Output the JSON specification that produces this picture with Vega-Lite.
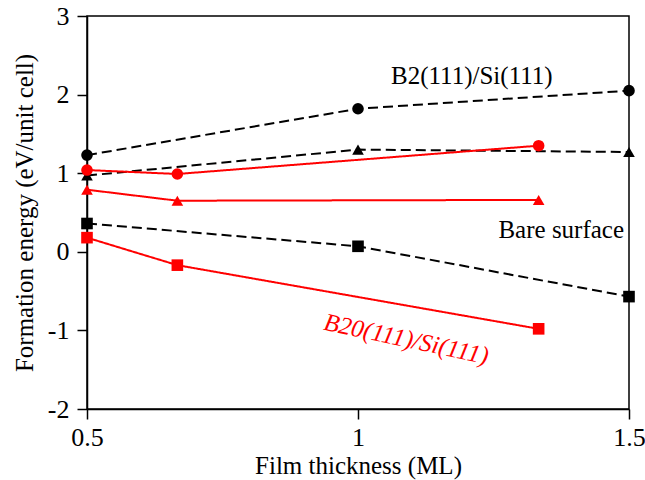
{
  "$schema": "https://vega.github.io/schema/vega-lite/v6.json",
  "width": 542,
  "height": 393,
  "autosize": {"type": "none"},
  "padding": {"left": 87, "top": 16, "right": 16, "bottom": 71},
  "background": "white",
  "config": {
    "view": {"stroke": "black", "strokeWidth": 1.5},
    "font": "Liberation Serif",
    "axis": {
      "domainColor": "black", "domainWidth": 1.5, "tickColor": "black", "tickWidth": 1.5, "tickSize": 10,
      "labelFont": "Liberation Serif", "labelFontSize": 26, "labelColor": "black",
      "titleFont": "Liberation Serif", "titleFontSize": 25, "titleFontWeight": "normal", "titleColor": "black",
      "grid": false
    }
  },
  "datasets": {
    "pts": [
      {"series": "B2 circle", "group": "B2", "mark": "circle", "x": 0.5, "y": 1.23},
      {"series": "B2 circle", "group": "B2", "mark": "circle", "x": 1.0, "y": 1.82},
      {"series": "B2 circle", "group": "B2", "mark": "circle", "x": 1.5, "y": 2.05},
      {"series": "B2 triangle", "group": "B2", "mark": "triangle", "x": 0.5, "y": 0.97},
      {"series": "B2 triangle", "group": "B2", "mark": "triangle", "x": 1.0, "y": 1.3},
      {"series": "B2 triangle", "group": "B2", "mark": "triangle", "x": 1.5, "y": 1.27},
      {"series": "B2 square", "group": "B2", "mark": "square", "x": 0.5, "y": 0.36},
      {"series": "B2 square", "group": "B2", "mark": "square", "x": 1.0, "y": 0.07},
      {"series": "B2 square", "group": "B2", "mark": "square", "x": 1.5, "y": -0.57},
      {"series": "B20 circle", "group": "B20", "mark": "circle", "x": 0.5, "y": 1.04},
      {"series": "B20 circle", "group": "B20", "mark": "circle", "x": 0.6667, "y": 0.99},
      {"series": "B20 circle", "group": "B20", "mark": "circle", "x": 1.3333, "y": 1.35},
      {"series": "B20 triangle", "group": "B20", "mark": "triangle", "x": 0.5, "y": 0.79},
      {"series": "B20 triangle", "group": "B20", "mark": "triangle", "x": 0.6667, "y": 0.65},
      {"series": "B20 triangle", "group": "B20", "mark": "triangle", "x": 1.3333, "y": 0.66},
      {"series": "B20 square", "group": "B20", "mark": "square", "x": 0.5, "y": 0.18},
      {"series": "B20 square", "group": "B20", "mark": "square", "x": 0.6667, "y": -0.17},
      {"series": "B20 square", "group": "B20", "mark": "square", "x": 1.3333, "y": -0.98}
    ],
    "labels": [
      {"text": "B2(111)/Si(111)", "group": "B2", "x": 1.21, "y": 2.24, "style": "normal"},
      {"text": "Bare surface", "group": "B2", "x": 1.375, "y": 0.28, "style": "normal"},
      {"text": "B20(111)/Si(111)", "group": "B20", "x": 1.089, "y": -1.11, "style": "italic"}
    ]
  },
  "encoding": {
    "x": {"field": "x", "type": "quantitative", "scale": {"domain": [0.5, 1.5], "nice": false, "zero": false},
      "axis": {"values": [0.5, 1, 1.5], "labelExpr": "'' + datum.value", "title": "Film thickness (ML)", "labelFlush": false, "labelPadding": 5, "titlePadding": 3}},
    "y": {"field": "y", "type": "quantitative", "scale": {"domain": [-2, 3], "nice": false, "zero": false},
      "axis": {"values": [-2, -1, 0, 1, 2, 3], "labelExpr": "'' + datum.value", "title": "Formation  energy (eV/unit cell)", "labelPadding": 8, "titlePadding": 10}}
  },
  "layer": [
    {
      "data": {"values": [{"y": 0}]},
      "mark": {"type": "rule", "color": "black", "strokeWidth": 1, "strokeDash": [1.5, 3]},
      "encoding": {"x": {"datum": 0.5}, "x2": {"datum": 1.5}, "y": {"field": "y", "type": "quantitative"}}
    },
    {
      "data": {"name": "pts"},
      "mark": {"type": "line", "strokeWidth": 2},
      "encoding": {
        "detail": {"field": "series"},
        "color": {"field": "group", "type": "nominal", "scale": {"domain": ["B2", "B20"], "range": ["black", "#ff0000"]}, "legend": null},
        "strokeDash": {"field": "group", "type": "nominal", "scale": {"domain": ["B2", "B20"], "range": [[10, 5], [1, 0]]}, "legend": null}
      }
    },
    {
      "data": {"name": "pts"},
      "mark": {"type": "point", "filled": true, "opacity": 1, "size": 135},
      "encoding": {
        "color": {"field": "group", "type": "nominal", "scale": {"domain": ["B2", "B20"], "range": ["black", "#ff0000"]}, "legend": null},
        "shape": {"field": "mark", "type": "nominal", "scale": {"domain": ["circle", "triangle", "square"], "range": ["circle", "triangle-up", "square"]}, "legend": null}
      }
    },
    {
      "data": {"name": "labels"},
      "transform": [{"filter": "datum.style == 'normal'"}],
      "mark": {"type": "text", "font": "Liberation Serif", "fontSize": 25, "align": "center", "baseline": "middle"},
      "encoding": {
        "text": {"field": "text"},
        "color": {"field": "group", "type": "nominal", "scale": {"domain": ["B2", "B20"], "range": ["black", "#ff0000"]}, "legend": null}
      }
    },
    {
      "data": {"name": "labels"},
      "transform": [{"filter": "datum.style == 'italic'"}],
      "mark": {"type": "text", "font": "Liberation Serif", "fontSize": 25, "fontStyle": "italic", "align": "center", "baseline": "middle", "angle": 12},
      "encoding": {
        "text": {"field": "text"},
        "color": {"field": "group", "type": "nominal", "scale": {"domain": ["B2", "B20"], "range": ["black", "#ff0000"]}, "legend": null}
      }
    }
  ]
}
